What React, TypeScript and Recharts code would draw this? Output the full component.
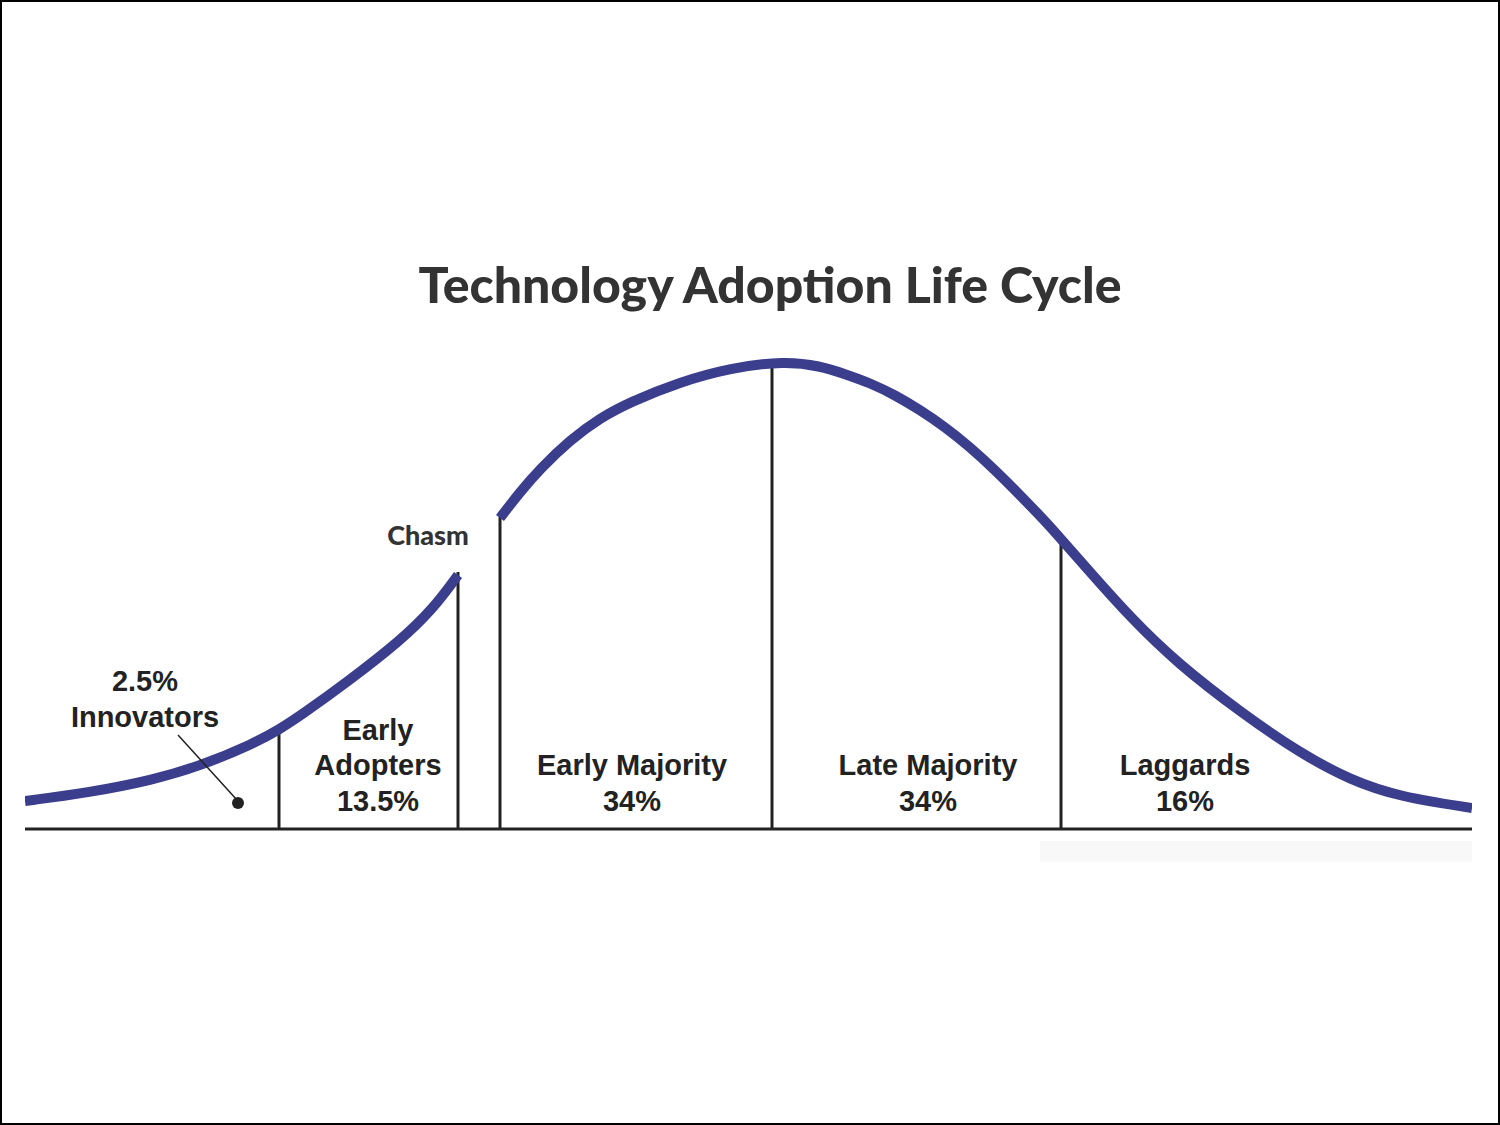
import React from 'react';
import {
  ComposedChart,
  Line,
  XAxis,
  YAxis,
  ReferenceLine,
  ReferenceDot,
  ReferenceArea,
  Label,
} from 'recharts';

// ---- data (x: position along adoption timeline, y: share density, arbitrary units) ----
const earlyMarketCurve = [
  { x: 0, y: 5.6 },
  { x: 62, y: 7.2 },
  { x: 128, y: 9.8 },
  { x: 175, y: 12.6 },
  { x: 228, y: 17.0 },
  { x: 255, y: 20.0 },
  { x: 275, y: 22.6 },
  { x: 325, y: 29.8 },
  { x: 375, y: 37.6 },
  { x: 408, y: 44.0 },
  { x: 433, y: 50.8 },
];

const mainstreamCurve = [
  { x: 475, y: 62.2 },
  { x: 495, y: 67.4 },
  { x: 515, y: 72.0 },
  { x: 545, y: 77.8 },
  { x: 575, y: 82.2 },
  { x: 605, y: 85.4 },
  { x: 655, y: 89.4 },
  { x: 705, y: 92.2 },
  { x: 760, y: 93.6 },
  { x: 795, y: 92.6 },
  { x: 820, y: 91.0 },
  { x: 845, y: 89.2 },
  { x: 870, y: 86.8 },
  { x: 895, y: 83.8 },
  { x: 920, y: 80.4 },
  { x: 945, y: 76.4 },
  { x: 970, y: 71.8 },
  { x: 995, y: 66.8 },
  { x: 1020, y: 61.6 },
  { x: 1036, y: 58.0 },
  { x: 1065, y: 51.4 },
  { x: 1105, y: 42.4 },
  { x: 1152, y: 33.2 },
  { x: 1218, y: 23.0 },
  { x: 1275, y: 15.2 },
  { x: 1325, y: 9.8 },
  { x: 1375, y: 6.4 },
  { x: 1447, y: 4.2 },
];

const dividerX = [254, 433, 475, 747, 1036];
const dividerTop = [20.0, 51.4, 62.4, 93.4, 58.0];

const groups = ['Innovators', 'Early Adopters', 'Early Majority', 'Late Majority', 'Laggards'];
const shares = ['2.5%', '13.5%', '34%', '34%', '16%'];
const groupLabelX = [120, 353, 607, 903, 1160];

const title = 'Technology Adoption Life Cycle';
const chasmLabel = 'Chasm';

const CURVE = '#3a3e8d';
const INK = '#222222';

type TextItem = { x: number; y: number; text: string };

function buildLabels(): TextItem[] {
  const items: TextItem[] = [];
  items.push({ x: groupLabelX[0], y: 29.6, text: shares[0] });
  items.push({ x: groupLabelX[0], y: 22.4, text: groups[0] });
  const [w1, w2] = groups[1].split(' ');
  items.push({ x: groupLabelX[1], y: 19.8, text: w1 });
  items.push({ x: groupLabelX[1], y: 12.8, text: w2 });
  items.push({ x: groupLabelX[1], y: 5.6, text: shares[1] });
  for (let i = 2; i < groups.length; i++) {
    items.push({ x: groupLabelX[i], y: 12.8, text: groups[i] });
    items.push({ x: groupLabelX[i], y: 5.6, text: shares[i] });
  }
  return items;
}

const labels = buildLabels();

export default function App() {
  return (
    <div
      style={{
        position: 'absolute',
        left: 0,
        top: 0,
        width: 1500,
        height: 1125,
        background: '#fff',
        overflow: 'hidden',
      }}
    >
      <div
        style={{
          position: 'absolute',
          left: 20,
          top: 259,
          width: 1500,
          textAlign: 'center',
          fontFamily: 'Lato, "Open Sans", sans-serif',
          fontWeight: 900,
          fontSize: 50,
          lineHeight: '50px',
          color: '#333',
          whiteSpace: 'nowrap',
        }}
      >
        {title}
      </div>
      <div style={{ position: 'absolute', left: 0, top: 0 }}>
        <ComposedChart
          width={1500}
          height={1125}
          margin={{ top: 329, right: 28, bottom: 246, left: 25 }}
        >
          <XAxis dataKey="x" type="number" domain={[0, 1447]} hide allowDataOverflow />
          <YAxis type="number" domain={[-10, 100]} hide allowDataOverflow />
          <ReferenceArea x1={1015} x2={1447} y1={-6.6} y2={-2.4} fill="#f8f8f8" fillOpacity={1} stroke="none" />
          <ReferenceLine y={0} stroke={INK} strokeWidth={3} />
          {dividerX.map((x, i) => (
            <ReferenceLine
              key={'d' + i}
              segment={[
                { x, y: 0 },
                { x, y: dividerTop[i] },
              ]}
              stroke={INK}
              strokeWidth={3}
            />
          ))}
          <Line
            data={earlyMarketCurve}
            dataKey="y"
            type="basis"
            stroke={CURVE}
            strokeWidth={10}
            dot={false}
            activeDot={false}
            isAnimationActive={false}
          />
          <Line
            data={mainstreamCurve}
            dataKey="y"
            type="basis"
            stroke={CURVE}
            strokeWidth={10}
            dot={false}
            activeDot={false}
            isAnimationActive={false}
          />
          <ReferenceLine
            segment={[
              { x: 153, y: 18.8 },
              { x: 212, y: 5.8 },
            ]}
            stroke={INK}
            strokeWidth={1.5}
          />
          <ReferenceDot x={213} y={5.2} r={6} fill={INK} stroke="none" />
          {labels.map((t, i) => (
            <ReferenceDot key={'l' + i} x={t.x} y={t.y} r={1} fill="none" stroke="none">
              <Label
                value={t.text}
                position="center"
                fill={INK}
                fontSize={29}
                fontWeight={700}
                fontFamily='"Liberation Sans", Arial, sans-serif'
              />
            </ReferenceDot>
          ))}
          <ReferenceDot x={403} y={58.8} r={1} fill="none" stroke="none">
            <Label
              value={chasmLabel}
              position="center"
              fill="#333"
              fontSize={27}
              fontWeight={900}
              fontFamily='Lato, "Open Sans", sans-serif'
            />
          </ReferenceDot>
        </ComposedChart>
      </div>
      <div
        style={{
          position: 'absolute',
          left: 0,
          top: 0,
          width: 1500,
          height: 1125,
          border: '2px solid #000',
          boxSizing: 'border-box',
          pointerEvents: 'none',
        }}
      />
    </div>
  );
}
